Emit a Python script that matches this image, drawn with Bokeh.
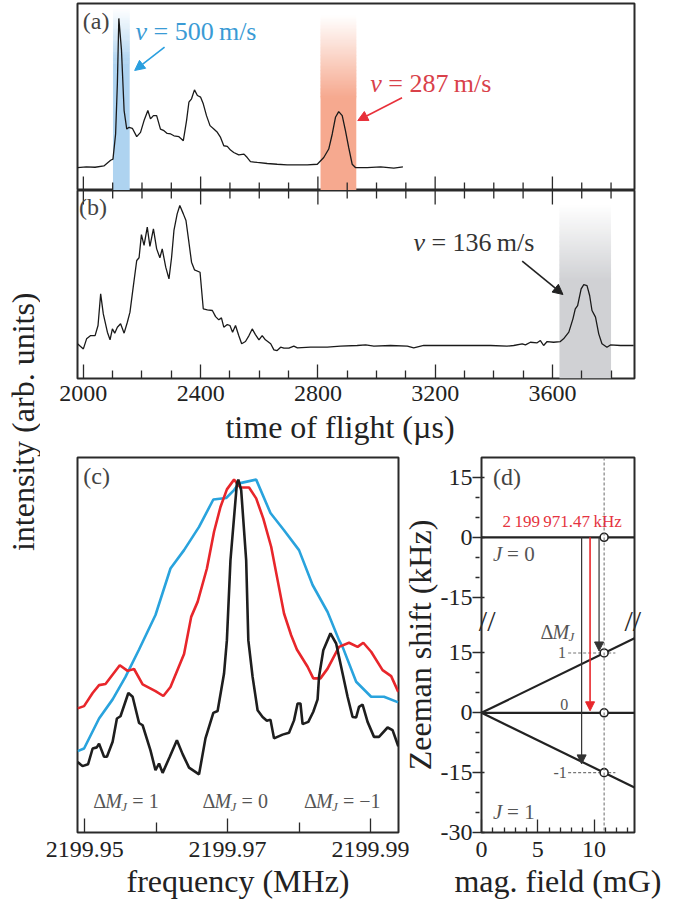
import numpy as np
from bokeh.plotting import figure
from bokeh.models import Range1d, LinearAxis, FixedTicker, Label, Arrow, NormalHead, Span
from bokeh.layouts import row, column
from bokeh.embed import file_html
from bokeh.resources import INLINE

FONT = "Liberation Serif"
INK = "#2a2a2a"
TXT = "#222222"

# ---------------- (a)/(b): time-of-flight traces ----------------
tof_ticks = [2000, 2400, 2800, 3200, 3600]
tof_tick_labels = ["2000", "2400", "2800", "3200", "3600"]
tof_minor_ticks = [2100, 2200, 2300, 2500, 2600, 2700, 2900, 3000, 3100,
                   3300, 3400, 3500, 3700, 3800]

tof_a = [1980, 2010, 2040, 2070, 2093, 2101, 2110, 2116, 2121, 2130,
         2139, 2148, 2156, 2167, 2182, 2195, 2207, 2220, 2229, 2239,
         2250, 2263, 2275, 2286, 2298, 2309, 2326, 2341, 2352, 2360,
         2369, 2379, 2389, 2400, 2409, 2420, 2432, 2445, 2457, 2468,
         2479, 2491, 2502, 2513, 2530, 2548, 2559, 2570, 2593, 2627,
         2661, 2695, 2718, 2764, 2798, 2820, 2837, 2849, 2860, 2871,
         2883, 2894, 2905, 2917, 2928, 2968, 3014, 3059, 3090]
int_a = [0.000, 0.004, 0.002, 0.011, 0.049, 0.056, 0.225, 0.562, 1.000, 0.787,
         0.382, 0.258, 0.270, 0.263, 0.207, 0.236, 0.315, 0.382, 0.326, 0.348,
         0.348, 0.258, 0.247, 0.229, 0.225, 0.213, 0.207, 0.180, 0.315, 0.438,
         0.461, 0.521, 0.483, 0.472, 0.427, 0.348, 0.281, 0.258, 0.236, 0.202,
         0.146, 0.142, 0.117, 0.101, 0.085, 0.090, 0.067, 0.040, 0.034, 0.027,
         0.022, 0.018, 0.018, 0.018, 0.022, 0.067, 0.124, 0.225, 0.337, 0.375,
         0.348, 0.247, 0.135, 0.022, 0.000, 0.000, 0.004, -0.004, 0.004]

tof_b = [1980, 2000, 2011, 2025, 2040, 2050, 2059, 2068, 2082, 2091,
         2099, 2107, 2116, 2127, 2139, 2150, 2159, 2170, 2182, 2190,
         2198, 2207, 2218, 2227, 2239, 2250, 2261, 2269, 2281, 2292,
         2301, 2309, 2320, 2329, 2341, 2350, 2360, 2369, 2379, 2398,
         2409, 2423, 2440, 2451, 2462, 2471, 2479, 2491, 2500, 2509,
         2519, 2530, 2540, 2553, 2565, 2576, 2587, 2599, 2610, 2621,
         2639, 2650, 2661, 2673, 2684, 2701, 2718, 2730, 2775, 2832,
         2877, 2934, 2963, 2991, 3048, 3105, 3127, 3161, 3218, 3275,
         3332, 3389, 3445, 3468, 3497, 3508, 3525, 3548, 3559, 3570,
         3582, 3604, 3627, 3638, 3656, 3670, 3678, 3686, 3698, 3707,
         3718, 3727, 3735, 3747, 3758, 3769, 3786, 3798, 3832, 3855, 3877]
int_b = [0.024, -0.012, 0.059, 0.082, 0.082, 0.153, 0.376, 0.235, 0.106, 0.052,
         0.129, 0.099, 0.141, 0.165, 0.099, 0.176, 0.247, 0.424, 0.612, 0.631,
         0.795, 0.718, 0.847, 0.711, 0.835, 0.694, 0.631, 0.694, 0.565, 0.482,
         0.635, 0.824, 0.941, 1.000, 0.941, 0.894, 0.741, 0.600, 0.546, 0.529,
         0.271, 0.264, 0.259, 0.216, 0.193, 0.207, 0.141, 0.160, 0.153, 0.106,
         0.153, 0.082, 0.024, 0.040, 0.082, 0.129, 0.089, 0.052, 0.082, 0.052,
         0.024, -0.019, -0.024, 0.000, -0.007, -0.007, 0.007, -0.005, 0.000, 0.000,
         0.007, 0.012, 0.016, 0.007, 0.012, 0.007, -0.005, 0.012, 0.012, 0.012,
         0.012, 0.012, 0.007, 0.012, 0.024, 0.016, 0.035, 0.031, 0.047, 0.012,
         0.040, 0.035, 0.040, 0.059, 0.106, 0.200, 0.271, 0.294, 0.412, 0.442,
         0.435, 0.365, 0.259, 0.212, 0.094, 0.024, 0.000, 0.016, 0.012, 0.012, 0.012]
assert len(tof_a) == len(int_a) and len(tof_b) == len(int_b)

# velocity-selected windows (start, end in us) and their velocities
win_a_start = [2101, 2809]
win_a_end = [2158, 2931]
win_a_velocity = ["500", "287"]
win_b_start = [3624]
win_b_end = [3800]
win_b_velocity = ["136"]

# ---------------- (c): spectra ----------------
freq_ticks = [2199.95, 2199.97, 2199.99]
freq_tick_labels = ["2199.95", "2199.97", "2199.99"]
freq_minor_ticks = [2199.96, 2199.98]

freq_blue = [2199.9490, 2199.9499, 2199.9520, 2199.9539, 2199.9557, 2199.9576,
             2199.9599, 2199.9620, 2199.9639, 2199.9660, 2199.9680, 2199.9698,
             2199.9709, 2199.9716, 2199.9740, 2199.9760, 2199.9779, 2199.9800,
             2199.9819, 2199.9840, 2199.9856, 2199.9861, 2199.9880, 2199.9901,
             2199.9919, 2199.9939]
sig_blue = [0.217, 0.224, 0.304, 0.355, 0.415, 0.488, 0.580, 0.704, 0.753, 0.815,
            0.888, 0.892, 0.913, 0.931, 0.941, 0.852, 0.806, 0.753, 0.660, 0.588,
            0.513, 0.495, 0.402, 0.362, 0.362, 0.347]

freq_red = [2199.9490, 2199.9499, 2199.9511, 2199.9520, 2199.9529, 2199.9549,
            2199.9560, 2199.9569, 2199.9581, 2199.9599, 2199.9610, 2199.9620,
            2199.9639, 2199.9649, 2199.9658, 2199.9671, 2199.9681, 2199.9690,
            2199.9699, 2199.9709, 2199.9718, 2199.9730, 2199.9740, 2199.9750,
            2199.9761, 2199.9770, 2199.9779, 2199.9789, 2199.9797, 2199.9812,
            2199.9820, 2199.9830, 2199.9840, 2199.9856, 2199.9870, 2199.9882,
            2199.9890, 2199.9901, 2199.9917, 2199.9929, 2199.9939]
sig_red = [0.331, 0.337, 0.372, 0.393, 0.396, 0.446, 0.431, 0.436, 0.395, 0.377,
           0.364, 0.388, 0.476, 0.575, 0.615, 0.704, 0.802, 0.868, 0.915, 0.941,
           0.920, 0.920, 0.891, 0.837, 0.762, 0.673, 0.584, 0.526, 0.488, 0.442,
           0.411, 0.411, 0.437, 0.495, 0.506, 0.495, 0.506, 0.482, 0.433, 0.417,
           0.375]

freq_black = [2199.9490, 2199.94968, 2199.95046, 2199.9511, 2199.95168, 2199.9520,
              2199.9527, 2199.9531, 2199.9539, 2199.9545, 2199.9550, 2199.9561,
              2199.9567, 2199.9576, 2199.9581, 2199.9592, 2199.9599, 2199.9604,
              2199.9609, 2199.9619, 2199.9629, 2199.9637, 2199.9646, 2199.9660,
              2199.9669, 2199.9680, 2199.9686, 2199.9695, 2199.9699, 2199.9704,
              2199.9713, 2199.9715, 2199.9719, 2199.9726, 2199.9729, 2199.9735,
              2199.9742, 2199.9749, 2199.9755, 2199.9760, 2199.9765, 2199.9777,
              2199.9786, 2199.9793, 2199.9798, 2199.9802, 2199.9805, 2199.9813,
              2199.9820, 2199.9826, 2199.9828, 2199.9834, 2199.9844, 2199.9852,
              2199.9861, 2199.9868, 2199.9875, 2199.9880, 2199.9884, 2199.9889,
              2199.9896, 2199.9905, 2199.9912, 2199.9924, 2199.9931, 2199.9939]
sig_black = [0.188, 0.177, 0.182, 0.224, 0.227, 0.237, 0.202, 0.202, 0.242, 0.304,
             0.310, 0.372, 0.362, 0.292, 0.286, 0.219, 0.166, 0.184, 0.159, 0.202,
             0.246, 0.209, 0.173, 0.155, 0.251, 0.319, 0.324, 0.424, 0.513, 0.726,
             0.931, 0.941, 0.913, 0.726, 0.513, 0.415, 0.326, 0.308, 0.298, 0.301,
             0.251, 0.261, 0.266, 0.299, 0.344, 0.344, 0.289, 0.295, 0.322, 0.355,
             0.415, 0.486, 0.531, 0.504, 0.424, 0.362, 0.308, 0.307, 0.335, 0.341,
             0.295, 0.255, 0.255, 0.280, 0.273, 0.230]
assert len(freq_blue) == len(sig_blue)
assert len(freq_red) == len(sig_red)
assert len(freq_black) == len(sig_black)

dmj_labels = ["1", "0", "\u22121"]
dmj_freq = [2199.9512, 2199.9665, 2199.9807]

# ---------------- (d): Zeeman diagram ----------------
field_ticks = [0, 5, 10]
field_tick_labels = ["0", "5", "10"]
field_minor_ticks = [1, 2, 3, 4, 6, 7, 8, 9, 11, 12, 13]
field_max = 13.6                 # mG, right end of axis
field_exp = 10.9                 # mG, applied field
j1_levels = [15, 0, -15]         # kHz shift of the J=1 sublevels at field_exp
j1_level_labels = ["1", "0", "-1"]
j0_level = 0                     # kHz
upper_offset = 44                # axis break: upper part shifted by this many kHz
break_at = 23.1                  # position of the break on the shifted scale
shift_ticks_lower = [-30, -15, 0, 15]
shift_ticks_upper = [-15, 0, 15]
transition_field = [8.9, 9.65, 10.45]
transition_tip = [-12.8, 0.5, 15.5]
transition_color = ["#333333", "#e8262b", "#333333"]
transition_freq_label = "2\u2009199\u2009971.47\u2009kHz"


def style_fig(p):
    p.outline_line_color = INK
    p.outline_line_width = 2
    p.xgrid.visible = False
    p.ygrid.visible = False
    p.background_fill_color = "white"
    p.border_fill_color = "white"


def style_axis(ax, major_in, minor_in, major_out=0, label_size="24px", standoff=4):
    ax.major_tick_in = major_in
    ax.major_tick_out = major_out
    ax.minor_tick_in = minor_in
    ax.minor_tick_out = 0
    ax.major_tick_line_color = INK
    ax.minor_tick_line_color = INK
    ax.major_tick_line_width = 1.3
    ax.minor_tick_line_width = 1.3
    ax.axis_line_color = None
    ax.major_label_text_font = FONT
    ax.major_label_text_font_size = label_size
    ax.major_label_text_color = TXT
    ax.major_label_standoff = standoff
    ax.axis_label_text_font = FONT
    ax.axis_label_text_font_size = "32px"
    ax.axis_label_text_font_style = "normal"
    ax.axis_label_text_color = TXT


def label(p, x, y, text, size, color="#444444", style="normal", align="left",
          dx=0, dy=0, angle=0.0):
    p.add_layout(Label(x=x, y=y, text=text, x_offset=dx, y_offset=dy,
                       text_font=FONT, text_font_size=size, text_font_style=style,
                       text_color=color, text_align=align, text_baseline="middle",
                       angle=angle))


def mix(color, t):
    c = np.array([int(color[i:i + 2], 16) for i in (1, 3, 5)], dtype=float)
    m = 255 + (c - 255) * t
    return "#%02x%02x%02x" % tuple(int(round(v)) for v in m)


def gradient_band(p, left, right, fade_top, solid_top, bottom, color, n=60):
    edges = np.linspace(fade_top, solid_top, n + 1)
    step = edges[0] - edges[1]
    cols = [mix(color, (i + 0.5) / n) for i in range(n)]
    p.quad(left=left, right=right, top=list(edges[:-1]), bottom=list(edges[1:] - 0.6 * step),
           fill_color=cols, line_color=None)
    p.quad(left=left, right=right, top=solid_top, bottom=bottom,
           fill_color=color, line_color=None)


def edge_ticks(p, y_edge, major_len, minor_len):
    n, m = len(tof_ticks), len(tof_minor_ticks)
    p.segment(x0=tof_ticks, y0=[y_edge] * n, x1=tof_ticks, y1=[y_edge + major_len] * n,
              line_color=INK, line_width=1.3)
    p.segment(x0=tof_minor_ticks, y0=[y_edge] * m, x1=tof_minor_ticks,
              y1=[y_edge + minor_len] * m, line_color=INK, line_width=1.3)


def velocity_label(p, x, y, vel, color):
    label(p, x, y, "v", "26px", color=color, style="italic")
    label(p, x, y, "= " + vel + "\u2009m/s", "26px", color=color, dx=18)


def break_axis(standoff):
    brk = LinearAxis(ticker=FixedTicker(ticks=[break_at], minor_ticks=[]),
                     major_label_overrides={break_at: "//"})
    brk.major_tick_in = 0
    brk.major_tick_out = 0
    brk.minor_tick_in = 0
    brk.minor_tick_out = 0
    brk.axis_line_color = None
    brk.major_label_text_font = FONT
    brk.major_label_text_font_size = "30px"
    brk.major_label_text_color = INK
    brk.major_label_standoff = standoff
    return brk


tof_range = Range1d(1980, 3880)

# ---------------- panel (a) ----------------
ya = Range1d(-0.154, 1.10)
pa = figure(width=631, height=190, x_range=tof_range, y_range=ya,
            min_border_left=37, min_border_right=37, min_border_top=3, min_border_bottom=0,
            toolbar_location=None, output_backend="svg")
style_fig(pa)
pa.xaxis.visible = False
pa.yaxis.visible = False

band_colors_a = ["#aed3f0", "#f6a98f"]
fade_tops_a = [1.07, 1.02]
solid_tops_a = [0.70, 0.47]
for s, e, c, ft, st in zip(win_a_start, win_a_end, band_colors_a, fade_tops_a, solid_tops_a):
    gradient_band(pa, s, e, ft, st, ya.start, c)
pa.line(tof_a, int_a, line_color="#1a1a1a", line_width=1.3)
px_a = (ya.end - ya.start) / 187.0
edge_ticks(pa, ya.start, 14 * px_a, 8 * px_a)

label(pa, 1998, 0.98, "(a)", "24px")
velocity_label(pa, 2178, 0.913, win_a_velocity[0], "#3a9bd5")
velocity_label(pa, 2979, 0.564, win_a_velocity[1], "#d9414a")
pa.add_layout(Arrow(end=NormalHead(size=10, line_color="#2a9fdf", fill_color="#2a9fdf"),
                    x_start=2277, y_start=0.807, x_end=2175, y_end=0.651,
                    line_color="#2a9fdf", line_width=1.6))
pa.add_layout(Arrow(end=NormalHead(size=10, line_color="#e8303a", fill_color="#e8303a"),
                    x_start=3087, y_start=0.468, x_end=2936, y_end=0.315,
                    line_color="#e8303a", line_width=1.6))

# ---------------- panel (b) ----------------
yb = Range1d(-0.221, 1.106)
pb = figure(width=631, height=266, x_range=tof_range, y_range=yb,
            min_border_left=37, min_border_right=37, min_border_top=0, min_border_bottom=78,
            toolbar_location=None, output_backend="svg")
style_fig(pb)
pb.yaxis.visible = False
pb.xaxis.ticker = FixedTicker(ticks=tof_ticks, minor_ticks=tof_minor_ticks)
pb.xaxis.major_label_overrides = dict(zip(tof_ticks, tof_tick_labels))
# trailing em space shifts the centred title slightly left, as in the original
pb.xaxis.axis_label = "time of flight (\u00b5s)\u2003"
style_axis(pb.xaxis[0], 14, 8, standoff=7)
pb.xaxis.axis_label_standoff = 5

gradient_band(pb, win_b_start[0], win_b_end[0], 1.01, 0.47, yb.start, "#d0d1d4")
pb.line(tof_b, int_b, line_color="#1a1a1a", line_width=1.3)
px_b = (yb.end - yb.start) / 188.0
edge_ticks(pb, yb.end, -14 * px_b, -8 * px_b)
label(pb, 1985, 0.99, "(b)", "24px")
velocity_label(pb, 3126, 0.742, win_b_velocity[0], "#333333")
pb.add_layout(Arrow(end=NormalHead(size=10, line_color="#222222", fill_color="#222222"),
                    x_start=3497, y_start=0.607, x_end=3636, y_end=0.372,
                    line_color="#222222", line_width=1.6))

# ---------------- panel (c) ----------------
pc = figure(width=375, height=450, x_range=Range1d(2199.94898, 2199.99393),
            y_range=Range1d(0, 1),
            min_border_left=37, min_border_right=17, min_border_top=1, min_border_bottom=74,
            toolbar_location=None, output_backend="svg")
style_fig(pc)
pc.yaxis.visible = False
pc.xaxis.ticker = FixedTicker(ticks=freq_ticks, minor_ticks=freq_minor_ticks)
pc.xaxis.major_label_overrides = dict(zip(freq_ticks, freq_tick_labels))
pc.xaxis.axis_label = "frequency (MHz)"
style_axis(pc.xaxis[0], 14, 10, standoff=9)
pc.xaxis.axis_label_standoff = 3

pc.line(freq_blue, sig_blue, line_color="#29a3dd", line_width=2.6)
pc.line(freq_red, sig_red, line_color="#e8262b", line_width=2.6)
pc.line(freq_black, sig_black, line_color="#1e1e1e", line_width=2.6)
label(pc, 2199.9498, 0.95, "(c)", "24px")
for f, lab in zip(dmj_freq, dmj_labels):
    label(pc, f, 0.083, "\u0394", "20px", color="#555555")
    label(pc, f, 0.083, "M", "20px", color="#555555", style="italic", dx=12)
    label(pc, f, 0.083, "J", "13px", color="#555555", style="italic", dx=28, dy=-5)
    label(pc, f, 0.083, "= " + lab, "20px", color="#555555", dx=39)

# ---------------- panel (d) ----------------
pd_ = figure(width=273, height=450, x_range=Range1d(0, field_max), y_range=Range1d(-30, 64),
             min_border_left=80, min_border_right=37, min_border_top=1, min_border_bottom=74,
             toolbar_location=None, output_backend="svg", margin=(0, 0, 0, -17))
style_fig(pd_)
pd_.border_fill_color = None
pd_.xaxis.ticker = FixedTicker(ticks=field_ticks, minor_ticks=field_minor_ticks)
pd_.xaxis.major_label_overrides = dict(zip(field_ticks, field_tick_labels))
pd_.xaxis.axis_label = "mag. field (mG)"
style_axis(pd_.xaxis[0], 13, 5, standoff=9)
pd_.xaxis.axis_label_standoff = 3

y_ticks = shift_ticks_lower + [t + upper_offset for t in shift_ticks_upper]
y_labels = [str(t) for t in shift_ticks_lower] + [str(t) for t in shift_ticks_upper]
y_minor = [-25, -20, -10, -5, 5, 10] + [t + upper_offset for t in [-10, -5, 5, 10]]
main_y = pd_.yaxis[0]
main_y.ticker = FixedTicker(ticks=y_ticks, minor_ticks=y_minor)
main_y.major_label_overrides = dict(zip(y_ticks, y_labels))
main_y.axis_label = "Zeeman shift (kHz)"
style_axis(main_y, 9, 4, major_out=3, standoff=0)
main_y.axis_label_standoff = 0

# axis-break marks: label-only axes that overlap the frame edge
pd_.left = [break_axis(-14), main_y]
pd_.add_layout(break_axis(-10), "right")

pd_.add_layout(Span(location=field_exp, dimension="height", line_color="#777777",
                    line_dash="3 2", line_width=1.1))
# J=0 level (upper part)
pd_.line([0, field_max], [j0_level + upper_offset] * 2, line_color="#222222", line_width=2.2)
# J=1 sublevels, linear in the field
for lvl in j1_levels:
    pd_.line([0, field_max], [0, lvl * field_max / field_exp], line_color="#222222",
             line_width=2.2)
# guide dashes to the level labels
guides = [l for l in j1_levels if l != 0]
pd_.segment(x0=[7.7] * len(guides), y0=guides, x1=[11.9] * len(guides), y1=guides,
            line_color="#777777", line_dash="3 2", line_width=1.1)
for bf, tip, col in zip(transition_field, transition_tip, transition_color):
    pd_.add_layout(Arrow(end=NormalHead(size=9, line_color=col, fill_color=col, line_width=1),
                         x_start=bf, y_start=j0_level + upper_offset, x_end=bf, y_end=tip,
                         line_color=col, line_width=1.6 if col != "#333333" else 1.2))
pd_.scatter([field_exp] * 4, [j0_level + upper_offset] + j1_levels, size=8,
            fill_color="white", line_color="#222222", line_width=1.6)

label(pd_, 1.03, 59, "(d)", "24px")
label(pd_, 7.17, 48.0, transition_freq_label, "17px", color="#e53340", align="center")
label(pd_, 1.03, 39.9, "J", "21px", color="#555555", style="italic")
label(pd_, 1.03, 39.9, "= 0", "21px", color="#555555", dx=14)
label(pd_, 1.03, -24.75, "J", "21px", color="#555555", style="italic")
label(pd_, 1.03, -24.75, "= 1", "21px", color="#555555", dx=14)
label(pd_, 5.24, 20.3, "\u0394", "20px", color="#555555")
label(pd_, 5.24, 20.3, "M", "20px", color="#555555", style="italic", dx=12)
label(pd_, 5.24, 20.3, "J", "13px", color="#555555", style="italic", dx=28, dy=-5)
for bx, lvl, txt in zip([7.16, 7.35, 6.99], [15, 2.1, -15], j1_level_labels):
    label(pd_, bx, lvl, txt, "16px", color="#555555", align="center")

# ---------------- shared y title ----------------
pl = figure(width=40, height=906, x_range=Range1d(0, 1), y_range=Range1d(0, 1),
            min_border=0, toolbar_location=None, output_backend="svg")
pl.xaxis.visible = False
pl.yaxis.visible = False
pl.xgrid.visible = False
pl.ygrid.visible = False
pl.outline_line_color = None
label(pl, 0.55, 0.535, "intensity (arb. units)", "32px", color=TXT, align="center",
      angle=np.pi / 2)

layout = row(pl, column(pa, pb, row(pc, pd_)))
open("out.html", "w").write(file_html(layout, INLINE, title="plot"))
